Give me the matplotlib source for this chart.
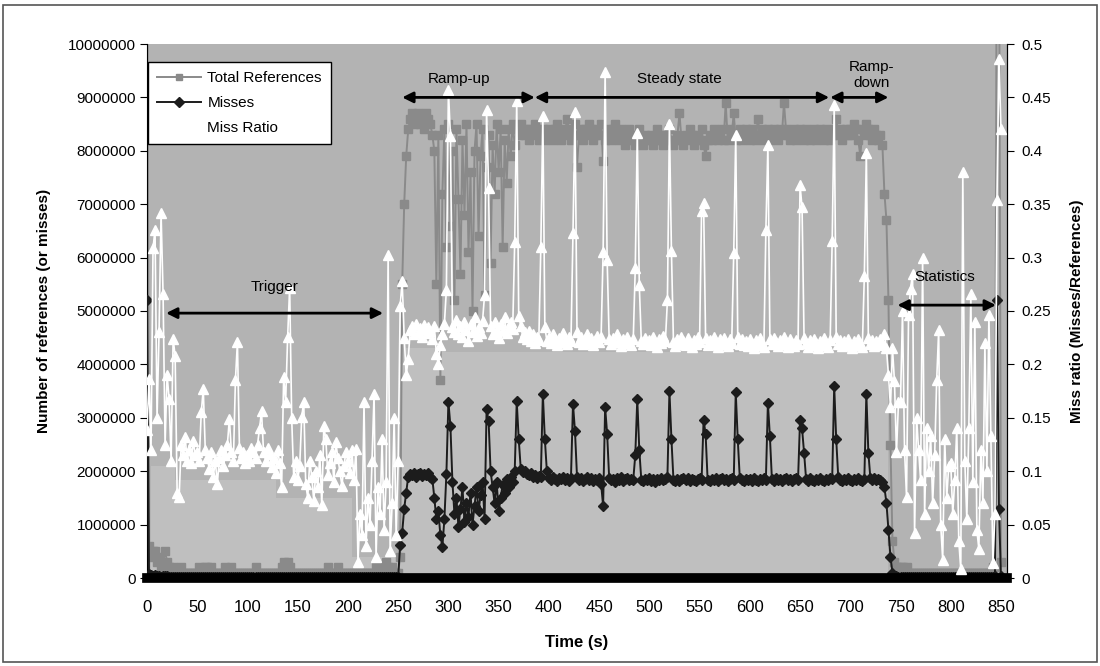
import numpy as np
import matplotlib.pyplot as plt
from matplotlib import font_manager
from matplotlib.lines import Line2D
from matplotlib.patches import Rectangle

# -----------------------------
# Data, one sample every 2 s
# -----------------------------
t = np.arange(0, 851, 2)

# Total references, units of 100000
refs = [
  130, 6, 4, 5, 5, 3, 4, 2, 3, 5, 3, 2, 1, 2, 1, 1, 1, 2, 1, 1, 1, 1, 1, 1, 1,
  1, 2, 1, 1, 2, 2, 1, 2, 1, 1, 1, 1, 1, 1, 2, 1, 1, 2, 1, 1, 1, 1, 1, 1, 1,
  1, 1, 1, 1, 2, 1, 1, 1, 1, 1, 1, 1, 1, 1, 1, 1, 1, 2, 3, 2, 3, 2, 1, 1, 1,
  1, 1, 1, 1, 1, 1, 1, 1, 1, 1, 1, 1, 1, 1, 1, 2, 1, 1, 1, 1, 2, 1, 1, 1, 1,
  1, 1, 1, 1, 1, 1, 1, 1, 1, 1, 1, 1, 1, 1, 2, 1, 1, 1, 2, 3, 2, 1, 2, 1, 1,
  1, 4, 55, 70, 79, 84, 86, 87, 85, 86, 87, 85, 86, 84, 87, 86, 85, 83, 80, 55, 83, 37, 72, 84, 62,
  85, 66, 80, 52, 84, 71, 57, 82, 68, 85, 61, 76, 50, 80, 85, 64, 79, 84, 53, 77, 83, 59, 81, 72, 85,
  76, 84, 62, 82, 74, 84, 79, 85, 81, 84, 83, 85, 84, 83, 84, 82, 84, 83, 85, 84, 82, 83, 84, 82, 83,
  84, 83, 82, 84, 85, 83, 82, 84, 83, 86, 84, 82, 83, 85, 77, 83, 84, 82, 84, 83, 85, 84, 82, 83, 84,
  83, 85, 78, 82, 84, 83, 82, 84, 85, 83, 82, 84, 83, 81, 82, 84, 83, 82, 81, 83, 84, 82, 81, 83, 82,
  82, 83, 81, 82, 84, 83, 82, 81, 83, 82, 84, 82, 81, 82, 83, 87, 82, 81, 83, 82, 84, 83, 81, 82, 83,
  82, 84, 81, 79, 82, 83, 82, 84, 83, 82, 83, 84, 82, 89, 82, 84, 83, 87, 82, 83, 84, 82, 83, 84, 83,
  82, 84, 83, 82, 86, 83, 84, 82, 83, 84, 82, 83, 84, 83, 82, 84, 83, 89, 84, 83, 82, 83, 84, 82, 83,
  84, 83, 82, 84, 83, 82, 83, 84, 82, 83, 84, 83, 82, 84, 83, 82, 83, 84, 86, 83, 84, 82, 83, 84, 83,
  84, 83, 85, 84, 82, 79, 84, 83, 85, 84, 83, 82, 84, 83, 82, 83, 81, 72, 67, 52, 25, 7, 3, 2, 2,
  2, 2, 1, 2, 1, 1, 1, 1, 1, 1, 1, 1, 1, 1, 1, 1, 1, 1, 1, 1, 1, 1, 1, 1, 1,
  1, 1, 1, 1, 1, 1, 1, 1, 1, 1, 1, 1, 1, 1, 1, 1, 1, 1, 1, 1, 1, 2, 2, 140, 130,
  3]

# Misses, units of 10000
misses = [
  520, 8, 5, 4, 5, 3, 4, 2, 3, 4, 3, 2, 1, 2, 1, 1, 1, 2, 1, 1, 1, 1, 1, 1, 1,
  1, 1, 1, 2, 1, 1, 1, 1, 1, 1, 2, 1, 1, 1, 1, 1, 1, 1, 1, 2, 1, 1, 1, 1, 1,
  1, 1, 1, 1, 1, 1, 2, 1, 1, 1, 1, 1, 1, 1, 1, 1, 1, 1, 2, 1, 2, 1, 1, 1, 1,
  1, 1, 1, 1, 1, 1, 1, 1, 2, 1, 1, 1, 1, 1, 1, 1, 1, 1, 1, 1, 1, 1, 2, 1, 1,
  1, 1, 1, 1, 1, 1, 1, 1, 1, 1, 1, 1, 1, 1, 1, 1, 1, 1, 1, 2, 1, 1, 1, 2, 1,
  2, 62, 85, 130, 160, 190, 195, 192, 196, 190, 194, 197, 191, 195, 193, 196, 190, 186, 150, 110, 125, 80, 58, 110, 195,
  330, 285, 180, 120, 150, 95, 130, 170, 105, 140, 115, 160, 100, 135, 170, 125, 155, 180, 110, 316, 294, 200, 170, 140, 180,
  125, 150, 175, 160, 185, 170, 190, 180, 200, 331, 260, 205, 198, 200, 195, 192, 196, 190, 193, 188, 191, 189, 345, 260, 200,
  187, 183, 190, 186, 181, 188, 185, 190, 184, 187, 182, 188, 326, 275, 190, 184, 188, 182, 186, 189, 183, 187, 181, 186, 184,
  188, 176, 135, 320, 270, 188, 183, 186, 180, 187, 184, 189, 182, 185, 188, 183, 186, 184, 230, 335, 240, 184, 181, 186, 183,
  187, 182, 185, 180, 186, 184, 188, 183, 186, 190, 350, 260, 184, 182, 186, 181, 185, 188, 183, 187, 182, 186, 184, 181, 185,
  187, 183, 296, 270, 184, 181, 186, 183, 188, 182, 185, 187, 183, 186, 182, 185, 188, 184, 348, 260, 188, 184, 181, 186, 183,
  186, 182, 187, 184, 181, 186, 183, 188, 184, 328, 265, 185, 182, 187, 183, 186, 181, 185, 188, 183, 186, 182, 185, 187, 183,
  296, 280, 235, 186, 182, 187, 184, 181, 186, 183, 188, 184, 182, 186, 183, 187, 185, 360, 260, 190, 184, 181, 186, 183, 187,
  184, 181, 186, 183, 188, 184, 182, 186, 345, 235, 187, 184, 188, 183, 186, 184, 180, 170, 140, 90, 40, 10, 4, 3, 2,
  2, 2, 1, 1, 2, 1, 1, 1, 1, 1, 1, 1, 1, 1, 1, 2, 1, 1, 1, 1, 1, 1, 1, 1, 1,
  1, 1, 1, 1, 1, 1, 1, 1, 1, 1, 1, 1, 1, 1, 1, 1, 1, 1, 1, 1, 1, 2, 3, 520, 130,
  3]

# Miss ratio, units of 0.001
ratio = [
  139, 186, 120, 309, 326, 150, 230, 342, 266, 125, 190, 168, 110, 224, 208, 80, 76, 125, 115, 132, 110, 120, 108, 128, 115,
  118, 110, 155, 177, 120, 112, 102, 118, 95, 110, 88, 112, 120, 105, 115, 125, 149, 118, 110, 185, 221, 122, 112, 118, 108,
  115, 110, 122, 118, 112, 125, 140, 156, 118, 110, 122, 116, 104, 112, 98, 120, 108, 85, 188, 165, 226, 272, 150, 95, 110,
  92, 105, 151, 165, 88, 75, 110, 95, 72, 100, 85, 115, 68, 142, 130, 96, 108, 118, 90, 127, 112, 100, 86, 105, 118,
  110, 98, 120, 92, 121, 15, 60, 40, 165, 30, 75, 50, 110, 172, 20, 85, 60, 130, 45, 90, 302, 25, 70, 150, 40,
  110, 255, 278, 225, 190, 205, 232, 236, 228, 238, 230, 234, 226, 237, 229, 235, 231, 224, 236, 210, 200, 218, 228, 238, 270,
  457, 414, 235, 230, 242, 228, 236, 226, 240, 232, 222, 238, 230, 244, 227, 235, 229, 241, 265, 438, 365, 236, 228, 240, 231,
  225, 238, 232, 244, 229, 236, 240, 233, 315, 447, 245, 236, 226, 230, 224, 231, 222, 228, 220, 226, 223, 310, 433, 235, 222,
  226, 220, 228, 223, 218, 225, 221, 229, 224, 219, 226, 222, 323, 436, 230, 221, 226, 219, 224, 228, 220, 225, 218, 223, 227,
  221, 226, 305, 474, 298, 224, 219, 225, 221, 228, 222, 217, 224, 220, 226, 221, 218, 224, 290, 417, 274, 222, 219, 225, 220,
  223, 218, 226, 221, 216, 224, 220, 227, 222, 260, 425, 306, 221, 217, 224, 219, 226, 222, 218, 225, 220, 216, 223, 219, 226,
  221, 344, 351, 225, 218, 223, 219, 226, 221, 216, 224, 219, 225, 220, 217, 224, 220, 304, 415, 226, 219, 224, 218, 222, 217,
  224, 220, 215, 223, 218, 225, 220, 216, 326, 405, 224, 219, 225, 221, 217, 223, 219, 226, 221, 216, 224, 220, 217, 223, 219,
  368, 347, 225, 220, 216, 223, 218, 224, 220, 215, 222, 218, 225, 220, 216, 223, 316, 443, 226, 219, 223, 217, 222, 218, 224,
  219, 215, 222, 218, 224, 220, 216, 283, 398, 225, 219, 223, 217, 222, 218, 224, 220, 228, 215, 190, 160, 215, 184, 118, 165,
  165, 250, 120, 76, 246, 271, 285, 42, 150, 120, 92, 300, 60, 140, 100, 133, 70, 115, 185, 232, 50, 17, 130, 75, 105,
  108, 60, 92, 140, 35, 8, 380, 110, 55, 140, 266, 90, 240, 45, 27, 120, 70, 220, 100, 246, 133, 14, 60, 354, 486,
  420]

# lower edge of the white miss-ratio cloud (plot area looks paler below it)
floor_t = [0, 4, 28, 128, 204, 252, 258, 290, 738, 856]
floor_v = [0.0, 0.105, 0.092, 0.075, 0.02, 0.20, 0.215, 0.212, 0.0, 0.0]

# phase markers: label, arrow start, arrow end, arrow height, text x, text y
phases = [
  ("Trigger",      19, 235, 4.96e6, 127, 5.45e6),
  ("Ramp-up",     254, 386, 9.0e6,  311, 9.35e6),
  ("Steady state", 386, 679, 9.0e6, 530, 9.35e6),
  ("Ramp-\ndown", 680, 738, 9.0e6,  721, 9.42e6),
  ("Statistics",  747, 845, 5.11e6, 794, 5.63e6),
]

names = {f.name for f in font_manager.fontManager.ttflist}
narrow = 'Liberation Sans Narrow' if 'Liberation Sans Narrow' in names else 'Liberation Sans'
plt.rcParams['font.family'] = 'Liberation Sans'

fig = plt.figure(figsize=(11, 6.66), dpi=100)
ax = fig.add_axes([147/1100, 1 - 578/666, (1007 - 147)/1100, (578 - 44)/666])
ax.set_facecolor('#b3b3b3')
ax2 = ax.twinx()

ax.fill_between(floor_t, 0, floor_v, step='post', color='#bfbfbf', lw=0,
                transform=ax2.transData, zorder=0.5)

ref_col = '#8a8a8a'
miss_col = '#1c1c1c'
ax.plot(t, np.array(refs) * 1e5, color=ref_col, lw=1.4, marker='s', ms=5.5,
        mec=ref_col, zorder=2)
ax.plot(t, np.array(misses) * 1e4, color=miss_col, lw=1.4, marker='D', ms=5.5,
        mec=miss_col, zorder=3)
ax.axhline(0, color='black', lw=7, zorder=4, clip_on=False)
ax2.plot(t, np.array(ratio) / 1000, color='white', lw=1.2, marker='^', ms=6.5,
         mec='white', zorder=3)

ax.set_xlim(0, 856)
ax.set_ylim(0, 1e7)
ax2.set_ylim(0, 0.5)

yt = list(range(0, 10000001, 1000000))
ax.set_yticks(yt)
ax.set_yticklabels([str(v) for v in yt])
rt = [i * 0.05 for i in range(11)]
ax2.set_yticks(rt)
ax2.set_yticklabels(['%g' % round(v, 2) for v in rt])
ax.set_xticks(range(0, 851, 50))

ax.tick_params(axis='y', direction='out', length=5, labelsize=11, pad=3)
ax.tick_params(axis='x', length=0, labelsize=12, pad=16)
ax2.tick_params(axis='y', direction='out', length=5, labelsize=11, pad=5)
for lab in ax.get_xticklabels():
  lab.set_fontfamily(narrow)

for a in (ax, ax2):
  a.spines['top'].set_visible(False)
  a.spines['bottom'].set_visible(False)
ax.spines['left'].set_color('black')
ax2.spines['right'].set_color('black')
ax2.spines['left'].set_visible(False)

ax.set_ylabel('Number of references (or misses)', fontsize=11,
              fontweight='bold', labelpad=12)
ax2.set_ylabel('Miss ratio (Misses/References)', fontsize=11,
               fontweight='bold', labelpad=14)
ax.set_xlabel('Time (s)', fontsize=12, fontweight='bold', family=narrow,
              labelpad=14)

handles = [
  Line2D([], [], color=ref_col, lw=1.4, marker='s', ms=5, mec=ref_col),
  Line2D([], [], color=miss_col, lw=1.4, marker='D', ms=5, mec=miss_col),
  Line2D([], [], color='white', lw=1.2, marker='^', ms=6, mec='white'),
]
leg = ax2.legend(handles, ['Total References', 'Misses', 'Miss Ratio'],
                 loc='upper left', bbox_to_anchor=(0.001, 0.966),
                 borderaxespad=0, fancybox=False, edgecolor='black',
                 facecolor='white', framealpha=1, fontsize=11,
                 handlelength=2.9, numpoints=1, labelspacing=0.72,
                 borderpad=0.6, handletextpad=0.4)
leg.get_frame().set_linewidth(1.0)

for label, x0, x1, y, tx, ty in phases:
  ax2.annotate('', xy=(x1, y), xytext=(x0, y), xycoords=ax.transData,
               textcoords=ax.transData,
               arrowprops=dict(arrowstyle='<|-|>', color='black', lw=2,
                               mutation_scale=16, shrinkA=0, shrinkB=0))
  ax2.text(tx, ty, label, transform=ax.transData, ha='center', va='center',
           fontsize=11, linespacing=1.1)

fig.patches.append(Rectangle((3/1100, 4/666), 1094/1100, 657/666,
                             transform=fig.transFigure, fill=False,
                             edgecolor='#555555', lw=1.2))

fig.savefig('out.png', dpi=100)
